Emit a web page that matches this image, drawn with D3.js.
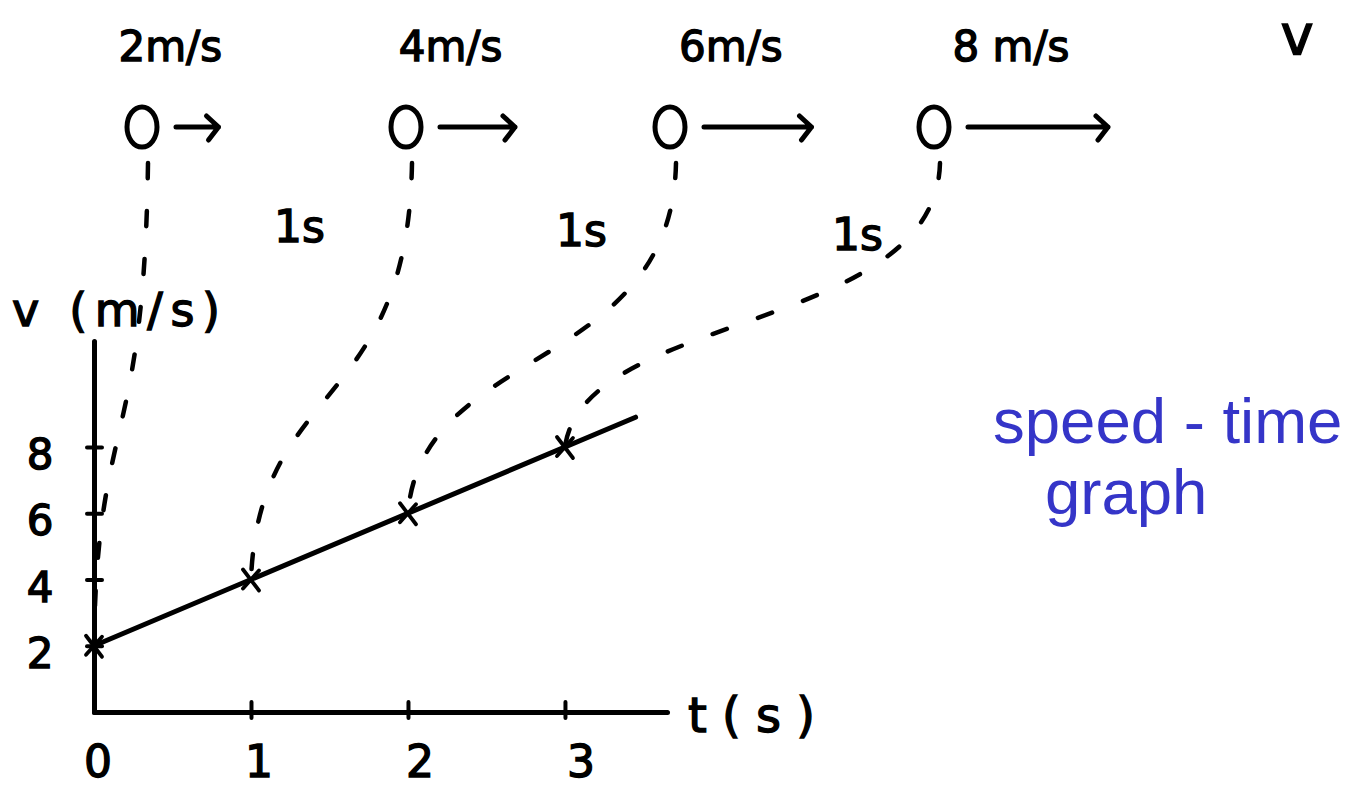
<!DOCTYPE html>
<html>
<head>
<meta charset="utf-8">
<script src="https://cdn.jsdelivr.net/npm/d3@7"></script>
<style>
  html, body { margin: 0; padding: 0; background: #fff; }
  svg { display: block; }
</style>
</head>
<body>
<svg id="chart" width="1363" height="786"></svg>
<script>
// Speed–time data for a uniformly accelerating object
const times = [0, 1, 2, 3];            // s
const speeds = [2, 4, 6, 8];           // m/s
const xTicks = [0, 1, 2, 3];
const yTicks = [2, 4, 6, 8];
const speedLabels = ["2m/s", "4m/s", "6m/s", "8 m/s"];
const intervalLabels = ["1s", "1s", "1s"];
const titleLines = ["speed - time", "graph"];

const ink = "#000";
const hand = "'DejaVu Sans', 'Liberation Sans', sans-serif";

const svg = d3.select("#chart");

// Graph scales
const x = d3.scaleLinear().domain([0, 3.65]).range([94, 667]);
const y = d3.scaleLinear().domain([0, 11.2]).range([712, 341]);

// Axes with ticks that cross the axis line
const gx = svg.append("g").attr("transform", `translate(0,${y(0)})`)
  .call(d3.axisBottom(x).tickValues(xTicks.slice(1)).tickSizeOuter(0).tickFormat(""));
gx.select(".domain").attr("stroke", ink).attr("stroke-width", 5).attr("stroke-linecap", "round");
gx.selectAll(".tick line").attr("y1", -10).attr("y2", 6).attr("stroke", ink).attr("stroke-width", 4).attr("stroke-linecap", "round");

const gy = svg.append("g").attr("transform", `translate(${x(0)},0)`)
  .call(d3.axisLeft(y).tickValues(yTicks).tickSizeOuter(0).tickFormat(""));
gy.select(".domain").attr("stroke", ink).attr("stroke-width", 5).attr("stroke-linecap", "round");
gy.selectAll(".tick line").attr("x1", -7).attr("x2", 8).attr("stroke", ink).attr("stroke-width", 4).attr("stroke-linecap", "round");

// Tick labels
svg.append("g").selectAll("text").data(xTicks).join("text")
  .attr("x", d => x(d) + 4 + d * 4).attr("y", 777)
  .attr("text-anchor", "middle")
  .attr("font-family", hand).attr("font-size", 44)
  .attr("fill", ink).attr("stroke", ink).attr("stroke-width", 1.4)
  .text(d => d);

svg.append("g").selectAll("text").data(yTicks).join("text")
  .attr("x", 40).attr("y", d => y(d) + 22)
  .attr("text-anchor", "middle")
  .attr("font-family", hand).attr("font-size", 42)
  .attr("fill", ink).attr("stroke", ink).attr("stroke-width", 1.4)
  .text(d => d);

// Axis titles
svg.append("text").attr("x", 12).attr("y", 326)
  .attr("font-family", hand).attr("font-size", 46)
  .attr("textLength", 208).attr("lengthAdjust", "spacing")
  .attr("fill", ink).attr("stroke", ink).attr("stroke-width", 1.4)
  .text("v (m/s)");

svg.append("text").attr("x", 688).attr("y", 732)
  .attr("font-family", hand).attr("font-size", 48)
  .attr("textLength", 127).attr("lengthAdjust", "spacing")
  .attr("fill", ink).attr("stroke", ink).attr("stroke-width", 1.4)
  .text("t(s)");

// Speed line through the measured points, extended a little past t = 3
const slope = (speeds[3] - speeds[0]) / (times[3] - times[0]);
const tEnd = 3.45;
svg.append("line")
  .attr("x1", x(times[0])).attr("y1", y(speeds[0]))
  .attr("x2", x(tEnd)).attr("y2", y(speeds[0] + slope * tEnd))
  .attr("stroke", ink).attr("stroke-width", 5).attr("stroke-linecap", "round");

// Cross markers on each reading
const pts = times.map((t, i) => ({ t, v: speeds[i] }));
const cross = svg.append("g").selectAll("g").data(pts).join("g")
  .attr("transform", d => `translate(${x(d.t)},${y(d.v)})`);
cross.append("path").attr("d", "M-8,-10L8,11M8,-9L-8,9")
  .attr("stroke", ink).attr("stroke-width", 3.8).attr("stroke-linecap", "round").attr("fill", "none");

// Object snapshots, one per second
const car = d3.scaleLinear().domain([0, 3]).range([142, 934]);
const arrowLen = d3.scaleLinear().domain([0, 8]).range([10, 140]);
const carY = 127;
const arrowGap = 34;

const snaps = svg.append("g").selectAll("g").data(pts).join("g")
  .attr("transform", (d, i) => `translate(${car(i)},${carY})`);

snaps.append("ellipse").attr("rx", 15).attr("ry", 20)
  .attr("fill", "none").attr("stroke", ink).attr("stroke-width", 5);

snaps.append("path")
  .attr("d", d => {
    const x0 = arrowGap, x1 = arrowGap + arrowLen(d.v);
    return `M${x0},0L${x1},0M${x1 - 12},-11L${x1},0L${x1 - 10},13`;
  })
  .attr("fill", "none").attr("stroke", ink).attr("stroke-width", 5)
  .attr("stroke-linecap", "round").attr("stroke-linejoin", "round");

snaps.append("text")
  .attr("x", d => 0.5 * (arrowGap + arrowLen(d.v)) - 10)
  .attr("y", -66)
  .attr("text-anchor", "middle")
  .attr("font-family", hand).attr("font-size", 42)
  .attr("fill", ink).attr("stroke", ink).attr("stroke-width", 1.4)
  .text((d, i) => speedLabels[i]);

svg.append("text").attr("x", 1297).attr("y", 54)
  .attr("text-anchor", "middle")
  .attr("font-family", hand).attr("font-size", 56)
  .attr("fill", ink).attr("stroke", ink).attr("stroke-width", 1.4)
  .text("v");

// Time interval between snapshots
svg.append("g").selectAll("text").data(intervalLabels).join("text")
  .attr("x", (d, i) => car(i + 0.5) + 18 * i - 6 * Math.max(0, i - 1))
  .attr("y", (d, i) => 242 + i * 4)
  .attr("font-family", hand).attr("font-size", 44)
  .attr("fill", ink).attr("stroke", ink).attr("stroke-width", 1.4)
  .text(d => d);

// Dashed connectors from each snapshot to its reading on the graph
const connector = (d, i) => {
  const sx = car(i) + 6, sy = carY + 36;
  const ex = x(d.t), ey = y(d.v);
  const dy = ey - sy;
  const p = d3.path();
  p.moveTo(sx, sy);
  p.bezierCurveTo(sx - 4, sy + 0.6 * dy, ex + 0.05 * (sx - ex), ey - 0.48 * dy, ex, ey);
  return p.toString();
};
svg.append("g").selectAll("path").data(pts).join("path")
  .attr("d", connector)
  .attr("fill", "none").attr("stroke", ink).attr("stroke-width", 4.5)
  .attr("stroke-linecap", "round").attr("stroke-dasharray", "15 33");

// Title
svg.append("g").selectAll("text").data(titleLines).join("text")
  .attr("x", (d, i) => i === 0 ? 993 : 1045)
  .attr("y", (d, i) => i === 0 ? 443 : 514)
  .attr("font-family", "'Liberation Sans', Arial, sans-serif")
  .attr("font-size", 63.5)
  .attr("fill", "#3535c8")
  .text(d => d);
</script>
</body>
</html>
